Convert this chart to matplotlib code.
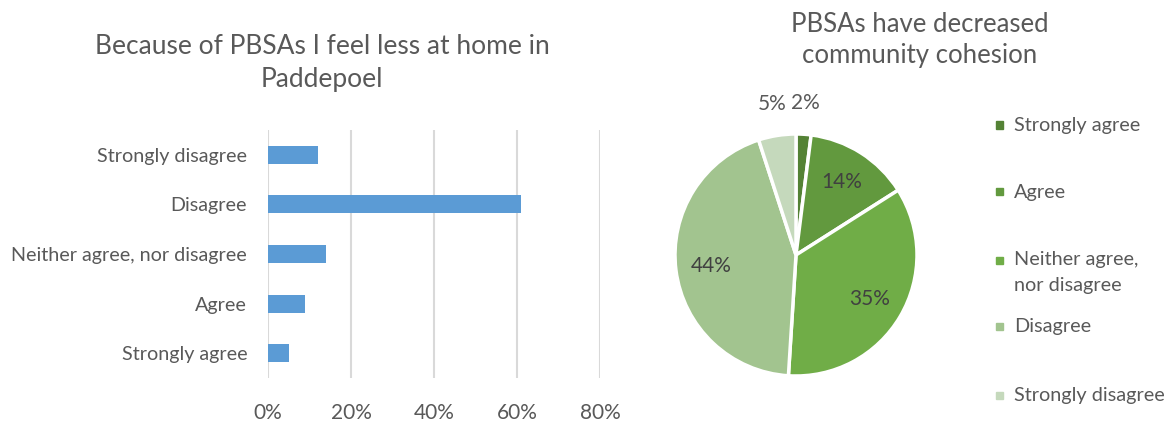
import numpy as np
import matplotlib.pyplot as plt
from matplotlib.patches import Rectangle

plt.rcParams['font.family'] = ['Lato', 'DejaVu Sans']

# left chart data
bar_labels = ["Strongly agree", "Agree", "Neither agree, nor disagree", "Disagree", "Strongly disagree"]
bar_values = [5, 9, 14, 61, 12]
x_ticks = [0, 20, 40, 60, 80]

# right chart data
pie_labels = ["Strongly agree", "Agree", "Neither agree,\nnor disagree", "Disagree", "Strongly disagree"]
pie_values = [2, 14, 35, 44, 5]
pie_colors = ["#548235", "#62993e", "#70ad47", "#a2c48f", "#c5d9bc"]

txt = "#595959"
W, H = 1168, 423

fig = plt.figure(figsize=(11.68, 4.23), dpi=100)

# ---- bar chart ----
ax = fig.add_axes([268/W, 1-378/H, (600-268)/W, (378-130)/H])
ax.barh(np.arange(len(bar_values)), bar_values, height=0.36, color="#5b9bd5", zorder=3)
ax.set_xlim(0, 80)
ax.set_ylim(-0.5, 4.5)
ax.set_xticks(x_ticks)
ax.set_xticklabels([f"{t}%" for t in x_ticks], fontsize=15, color=txt)
ax.set_yticks(np.arange(len(bar_labels)))
ax.set_yticklabels(bar_labels, fontsize=14.2, color=txt)
ax.tick_params(length=0, pad=18, axis='x')
ax.tick_params(length=0, pad=15, axis='y')
ax.grid(axis='x', color="#d9d9d9", linewidth=1.5, zorder=0)
for s in ax.spines.values():
    s.set_visible(False)
fig.text(322/W, 1-63/H, "Because of PBSAs I feel less at home in\nPaddepoel",
         ha='center', va='center', fontsize=19, color=txt, linespacing=1.4)

# ---- pie chart ----
ax2 = fig.add_axes([(796-121)/W, 1-(255+121)/H, 242/W, 242/H])
wedges, texts, autotexts = ax2.pie(pie_values, colors=pie_colors, startangle=90, counterclock=False,
                                   autopct='%1.0f%%', pctdistance=0.71,
                                   wedgeprops=dict(edgecolor='white', linewidth=2.5),
                                   textprops=dict(fontsize=15, color="#404040"))
for w, t in zip(wedges, autotexts):
    if (w.theta2 - w.theta1) < 25:
        ang = np.deg2rad((w.theta1 + w.theta2) / 2)
        t.set_position((1.26 * np.cos(ang), 1.26 * np.sin(ang)))
        t.set_color(txt)
    t.set_clip_on(False)
ax2.set_xlim(-1, 1)
ax2.set_ylim(-1, 1)
ax2.set_aspect('equal')
fig.text(920/W, 1-40/H, "PBSAs have decreased\ncommunity cohesion",
         ha='center', va='center', fontsize=18.5, color=txt, linespacing=1.35)

# legend, laid out like the original (two-line entry aligned on its first line)
leg_y = [125, 192, 260, 326, 395]
for lab, col, y in zip(pie_labels, pie_colors, leg_y):
    fig.add_artist(Rectangle(((996)/W, 1-(y+3.5)/H), 7/W, 7/H, color=col,
                             transform=fig.transFigure))
    first = lab.split("\n")[0]
    fig.text(1014/W, 1-y/H, first, ha='left', va='center', fontsize=14.3, color=txt)
    if "\n" in lab:
        fig.text(1014/W, 1-(y+25)/H, lab.split("\n")[1], ha='left', va='center',
                 fontsize=14.3, color=txt)

fig.savefig("out.png", dpi=100)
